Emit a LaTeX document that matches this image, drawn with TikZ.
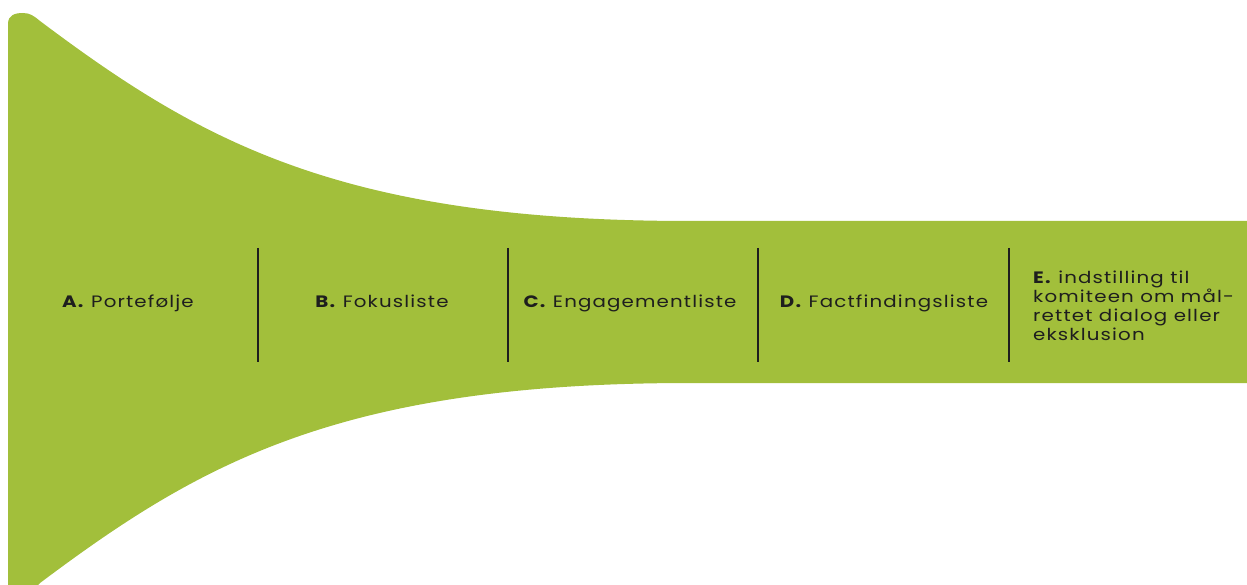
\documentclass[tikz,border=0pt]{standalone}
\usepackage{fontspec}
\setmainfont{Poppins}[FakeStretch=1.2, LetterSpace=7]
\definecolor{funnelgreen}{RGB}{162,191,59}
\definecolor{inkdark}{RGB}{30,30,30}
\begin{document}
\begin{tikzpicture}[x=1pt,y=-1pt,
  txt/.style={font=\fontsize{16.5}{19}\selectfont, text=inkdark, inner sep=0pt},
  divider/.style={draw=inkdark, line width=1.5pt}]
\useasboundingbox (0,0) rectangle (1247,585);
\fill[funnelgreen] (8,585) -- (8,24) .. controls (8,15) and (15,13) .. (23,13)
  .. controls (30,13) and (34,16) .. (40,21)
  .. controls (200,141) and (340,221) .. (690,221) -- (1247,221) -- (1247,383) -- (690,383)
  .. controls (340,383) and (200,463) .. (40,583) -- (38,585) -- cycle;
\foreach \x/\n in {258/d1,508/d2,758/d3,1009/d4}{
  \coordinate (\n t) at (\x,248);
  \coordinate (\n b) at (\x,362);
  \draw[divider] (\n t) -- (\n b);
}
\node[txt, anchor=base] (a) at (128,308) {\textbf{A.} Portefølje};
\node[txt, anchor=base] (b) at (382,308) {\textbf{B.} Fokusliste};
\node[txt, anchor=base] (c) at (630,308) {\textbf{C.} Engagementliste};
\node[txt, anchor=base] (d) at (884,308) {\textbf{D.} Factfindingsliste};
\node[txt, anchor=north west, align=left] (e) at (1033,271) {\textbf{E.} indstilling til\\komiteen om mål-\\rettet dialog eller\\eksklusion};
\end{tikzpicture}
\end{document}
